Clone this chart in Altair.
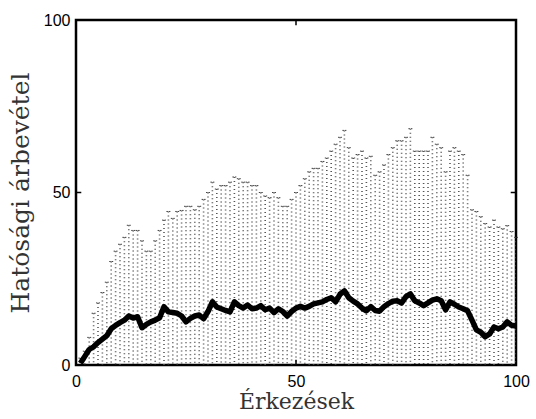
import altair as alt
import pandas as pd

# Arrivals 1..100
arrivals = list(range(1, 101))

# Upper end of the spread band at each arrival
upper = [
    2, 4, 8, 15, 18, 21, 24, 30, 33, 35,
    37, 40.5, 39, 39, 36, 33, 33, 36, 39, 42,
    44.5, 42.5, 44.5, 44.8, 46, 46, 45, 46, 48, 50,
    53, 51, 52, 52, 53, 54.5, 54, 53, 53, 52,
    52, 50, 49, 48.5, 50, 48.5, 46, 46, 48, 50,
    52, 54, 56, 57, 57, 59, 60, 62, 64, 66,
    68, 63, 60, 61, 62, 60, 60.5, 55, 56, 58,
    61, 63, 65, 65, 66, 68.5, 62, 62, 62, 62,
    66, 64, 63, 56, 62, 63, 62, 61, 55, 45,
    44.5, 43, 41, 40, 42, 40, 39.5, 40.4, 38.7, 37,
]

# Mean revenue at each arrival
mean = [
    0.5, 2.5, 4.5, 5.3, 6.5, 7.5, 8.5, 10.5, 11.5, 12.3,
    13, 14.2, 13.6, 14, 10.8, 11.8, 12.5, 13, 13.7, 16.9,
    15.4, 15.2, 15, 14.2, 12.5, 13.5, 14.2, 14.5, 13.4, 15.5,
    18.3, 16.8, 16.3, 15.8, 15.4, 18.3, 17.2, 16.5, 17.4, 16.3,
    16.5, 17.2, 16, 16.5, 15.2, 16.3, 15.5, 14.2, 15.5, 16.5,
    17, 16.5, 17, 17.7, 18, 18.3, 19, 19.5, 18.3, 20.5,
    21.5, 19.5, 18.5, 17.7, 16.5, 15.7, 16.9, 15.8, 15.6, 16.9,
    17.8, 18.5, 18.6, 18, 19.8, 20.6, 18.6, 18, 17.2, 18,
    18.8, 19.2, 18.6, 16, 18.3, 17.6, 16.8, 16.3, 15.7, 13,
    10.2, 9.5, 8.2, 9, 11, 10.5, 11, 12.5, 11.5, 11.3,
]

tick_values = [0, 50, 100]

df = pd.DataFrame({"x": arrivals, "upper": upper, "mean": mean})
df["cap_l"] = df["x"] - 0.45
df["cap_r"] = df["x"] + 0.45

label_font = "Liberation Sans"
title_font = "DejaVu Serif"

x_scale = alt.Scale(domain=[0, 100], nice=False, zero=False)
y_scale = alt.Scale(domain=[0, 100], nice=False, zero=False)

x_axis = alt.Axis(
    values=tick_values, tickSize=0, domain=False, grid=False,
    labelFont=label_font, labelFontSize=16, labelColor="black",
    labelPadding=8, labelFlush=False,
    title="Érkezések", titleFont=title_font, titleFontSize=22,
    titleFontWeight="normal", titleColor="#333", titlePadding=2,
)
y_axis = alt.Axis(
    values=tick_values, tickSize=0, domain=False, grid=False,
    labelFont=label_font, labelFontSize=16, labelColor="black",
    labelPadding=6, labelFlush=False,
    title="Hatósági árbevétel", titleFont=title_font, titleFontSize=25,
    titleFontWeight="normal", titleColor="#333", titlePadding=10,
)

base = alt.Chart(df)

# Dotted vertical spread bars from the baseline up to the upper value
bars = base.mark_rule(
    color="#555", strokeWidth=1.6, strokeDash=[1, 3], clip=True
).encode(
    x=alt.X("x:Q", scale=x_scale, axis=x_axis),
    y=alt.Y("upper:Q", scale=y_scale, axis=y_axis),
    y2=alt.datum(0),
)

# Small caps on top of each bar
caps = base.mark_rule(
    color="#444", strokeWidth=1, strokeDash=[1.5, 1]
).encode(
    x="cap_l:Q",
    x2="cap_r:Q",
    y="upper:Q",
)

# Thick mean line
line = base.mark_line(
    color="black", strokeWidth=5.5, strokeJoin="round", clip=True
).encode(
    x="x:Q",
    y="mean:Q",
)

# Inward tick marks at the middle of each side
ticks_df = pd.DataFrame({"v": [50]})
tick_b = alt.Chart(ticks_df).mark_rule(color="black", strokeWidth=1.5).encode(
    x="v:Q", y=alt.datum(0), y2=alt.datum(1.5))
tick_t = alt.Chart(ticks_df).mark_rule(color="black", strokeWidth=1.5).encode(
    x="v:Q", y=alt.datum(100), y2=alt.datum(98.5))
tick_l = alt.Chart(ticks_df).mark_rule(color="black", strokeWidth=1.5).encode(
    y="v:Q", x=alt.datum(0), x2=alt.datum(1.2))
tick_r = alt.Chart(ticks_df).mark_rule(color="black", strokeWidth=1.5).encode(
    y="v:Q", x=alt.datum(100), x2=alt.datum(98.8))

chart = alt.layer(bars, caps, line, tick_b, tick_t, tick_l, tick_r).properties(
    width=440,
    height=345,
    background="white",
    autosize=alt.AutoSizeParams(type="none"),
    padding={"left": 76, "top": 20, "right": 20, "bottom": 54},
).configure_view(
    stroke="black", strokeWidth=2.5
)

chart.save("out.html", embed_options={"renderer": "svg", "actions": False})
